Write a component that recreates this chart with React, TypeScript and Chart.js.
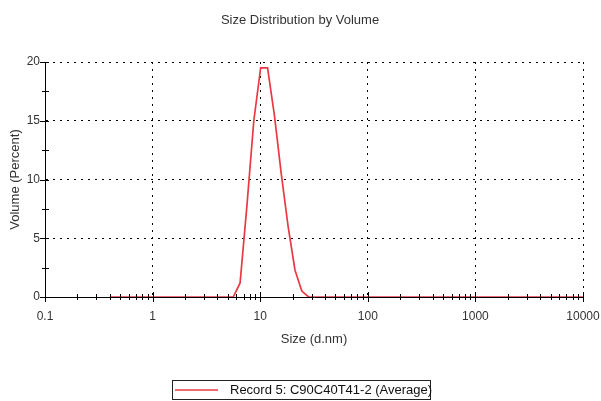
import React, { useEffect, useRef } from "react";
import { Chart, registerables } from "chart.js";

Chart.register(...registerables);

const chartTitle = "Size Distribution by Volume";
const xAxisTitle = "Size (d.nm)";
const yAxisTitle = "Volume (Percent)";
const seriesLabel = "Record 5: C90C40T41-2 (Average)";

const sizes = [
  0.4, 0.4632, 0.5365, 0.6213, 0.7195, 0.8332, 0.9649, 1.117, 1.294, 1.499,
  1.736, 2.01, 2.328, 2.696, 3.122, 3.615, 4.187, 4.849, 5.615, 6.503,
  7.531, 8.721, 10.1, 11.7, 13.54, 15.69, 18.17, 21.04, 24.36, 28.21,
  32.67, 37.84, 43.82, 50.75, 58.77, 68.06, 78.82, 91.28, 105.7, 122.4,
  141.8, 164.2, 190.1, 220.2, 255.0, 295.3, 342.0, 396.1, 458.7, 531.2,
  615.1, 712.4, 825.0, 955.4, 1106, 1281, 1484, 1718, 1990, 2305,
  2669, 3091, 3580, 4145, 4801, 5560, 6439, 7456, 8635, 10000,
];

const volume = [
  0, 0, 0, 0, 0, 0, 0, 0, 0, 0,
  0, 0, 0, 0, 0, 0, 0, 0, 0, 1.2,
  7.8, 15.0, 19.5, 19.5, 15.5, 10.5, 6.0, 2.3, 0.5, 0,
  0, 0, 0, 0, 0, 0, 0, 0, 0, 0,
  0, 0, 0, 0, 0, 0, 0, 0, 0, 0,
  0, 0, 0, 0, 0, 0, 0, 0, 0, 0,
  0, 0, 0, 0, 0, 0, 0, 0, 0, 0,
];

const xTickValues = [0.1, 1, 10, 100, 1000, 10000];
const xTickLabels = ["0.1", "1", "10", "100", "1000", "10000"];
const yTickValues = [0, 5, 10, 15, 20];
const yMinorTickValues = [2.5, 7.5, 12.5, 17.5];
const minorMultipliers = [2, 3, 4, 5, 6, 7, 8, 9];

const FONT = "'Liberation Sans', Arial, sans-serif";
const TEXT = "#333";
const RED = "rgb(232,58,66)";

const decorPlugin = {
  id: "decor",
  afterDatasetsDraw(chart: any) {
    const { ctx, chartArea, scales } = chart;
    const xs = scales.x;
    const ys = scales.y;
    ctx.save();
    ctx.strokeStyle = "#000";
    ctx.lineWidth = 1;
    ctx.beginPath();
    const b = chartArea.bottom;
    const l = chartArea.left;
    for (let d = 0; d < xTickValues.length - 1; d++) {
      for (const m of minorMultipliers) {
        const px = Math.round(xs.getPixelForValue(xTickValues[d] * m)) + 0.5;
        ctx.moveTo(px, b - 3);
        ctx.lineTo(px, b + 3);
      }
    }
    for (const v of xTickValues) {
      const px = Math.round(xs.getPixelForValue(v)) + 0.5;
      ctx.moveTo(px, b - 5);
      ctx.lineTo(px, b + 5);
    }
    for (const v of yTickValues) {
      const py = Math.round(ys.getPixelForValue(v)) + 0.5;
      ctx.moveTo(l - 5, py);
      ctx.lineTo(l + 4, py);
    }
    for (const v of yMinorTickValues) {
      const py = Math.round(ys.getPixelForValue(v)) + 0.5;
      ctx.moveTo(l - 3, py);
      ctx.lineTo(l + 4, py);
    }
    ctx.stroke();
    ctx.restore();
  },
  afterDraw(chart: any) {
    const { ctx } = chart;
    ctx.save();
    ctx.fillStyle = TEXT;
    ctx.font = `13px ${FONT}`;
    ctx.textAlign = "center";
    ctx.textBaseline = "middle";
    ctx.fillText(chartTitle, 300, 20);
    const ds = chart.data.datasets[0];
    ctx.strokeStyle = "#222";
    ctx.lineWidth = 1;
    ctx.strokeRect(172.5, 380.5, 258, 19);
    ctx.strokeStyle = ds.borderColor;
    ctx.lineWidth = 1.5;
    ctx.beginPath();
    ctx.moveTo(175, 390);
    ctx.lineTo(218, 390);
    ctx.stroke();
    ctx.fillStyle = "#111";
    ctx.textAlign = "left";
    ctx.fillText(ds.label, 230, 390);
    ctx.restore();
  },
};

export default function App() {
  const ref = useRef<HTMLCanvasElement>(null);

  useEffect(() => {
    document.body.style.margin = "0";
    const canvas = ref.current;
    if (!canvas) return;
    const chart = new Chart(canvas, {
      type: "line",
      data: {
        datasets: [
          {
            label: seriesLabel,
            data: sizes.map((s, i) => ({ x: s, y: volume[i] })),
            borderColor: RED,
            backgroundColor: RED,
            borderWidth: 1.7,
            pointRadius: 0,
            tension: 0,
            fill: false,
          },
        ],
      },
      options: {
        animation: false,
        responsive: false,
        devicePixelRatio: 1,
        layout: { padding: { left: 0, right: 18, top: 62, bottom: 52 } },
        plugins: {
          legend: { display: false },
          title: { display: false },
          tooltip: { enabled: false },
        },
        scales: {
          x: {
            type: "logarithmic",
            min: 0.1,
            max: 10000,
            afterBuildTicks: (scale: any) => {
              scale.ticks = xTickValues.map((v) => ({ value: v }));
            },
            afterFit: (scale: any) => {
              scale.height = 52;
              scale.paddingLeft = 0;
              scale.paddingRight = 0;
            },
            ticks: {
              autoSkip: false,
              maxRotation: 0,
              padding: 12,
              color: TEXT,
              font: { family: FONT, size: 12 },
              callback: (v: any) => {
                const i = xTickValues.indexOf(Number(v));
                return i >= 0 ? xTickLabels[i] : "";
              },
            },
            grid: { color: "#000", lineWidth: 1, drawTicks: false },
            border: { display: true, color: "#000", width: 1, dash: [2, 5] },
            title: {
              display: true,
              text: xAxisTitle,
              color: TEXT,
              font: { family: FONT, size: 13 },
              padding: { top: 0, bottom: 2 },
            },
          },
          y: {
            type: "linear",
            min: 0,
            max: 20,
            afterBuildTicks: (scale: any) => {
              scale.ticks = yTickValues.map((v) => ({ value: v }));
            },
            afterFit: (scale: any) => {
              scale.width = 45;
              scale.paddingTop = 0;
              scale.paddingBottom = 0;
            },
            ticks: {
              padding: 5,
              color: TEXT,
              font: { family: FONT, size: 12 },
            },
            grid: { color: "#000", lineWidth: 1, drawTicks: false },
            border: { display: true, color: "#000", width: 1, dash: [2, 5] },
            title: {
              display: true,
              text: yAxisTitle,
              color: TEXT,
              font: { family: FONT, size: 13 },
              padding: { top: 8, bottom: 0 },
            },
          },
        },
      },
      plugins: [decorPlugin],
    });
    return () => chart.destroy();
  }, []);

  return (
    <div style={{ width: 601, height: 401, overflow: "hidden", background: "#fff" }}>
      <canvas ref={ref} width={601} height={401} style={{ display: "block" }} />
    </div>
  );
}
